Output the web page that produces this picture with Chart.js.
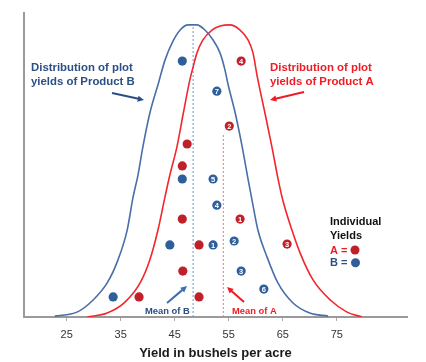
<!DOCTYPE html>
<html>
<head>
<meta charset="utf-8">
<script src="https://cdn.jsdelivr.net/npm/chart.js@4.4.0/dist/chart.umd.min.js"></script>
<style>
  html, body { margin: 0; padding: 0; background: #fff; }
</style>
</head>
<body>
<canvas id="myChart" width="426" height="362"></canvas>
<script>
// x axis
const tickValues = [25, 35, 45, 55, 65, 75];

// distribution curves (yield, relative height 0-100)
const curveBX = [22.8, 26.9, 29.9, 32.5, 34.5, 36.2, 37.3, 38.2, 39.1, 40.4, 42.0, 43.2, 44.5, 46.0, 47.5, 49.1, 50.6, 52.1, 53.4, 54.3, 54.9, 56.2, 57.5, 58.6, 59.3, 60.4, 62.1, 64.1, 66.9, 70.0, 73.4];
const curveBY = [0.3, 1.6, 5.6, 11.2, 18.8, 28.6, 39.5, 46.7, 55.9, 67.1, 77.0, 84.5, 90.1, 94.4, 96.1, 96.1, 94.4, 91.1, 86.8, 81.3, 76.3, 67.1, 55.9, 45.1, 38.5, 28.6, 19.7, 11.2, 4.6, 1.3, 0.3];
const curveAX = [28.8, 32.5, 35.8, 38.6, 40.4, 41.9, 43.2, 44.1, 45.4, 46.6, 47.8, 48.4, 49.1, 50.2, 51.9, 53.4, 55.2, 57.1, 58.6, 59.5, 60.3, 61.7, 63.0, 64.1, 65.0, 66.7, 68.2, 70.6, 73.8, 76.9, 79.7];
const curveAY = [0, 1.3, 4.9, 11.2, 18.8, 28.6, 39.5, 46.7, 55.9, 67.1, 78.0, 82.2, 86.8, 91.1, 94.4, 95.7, 96.1, 94.4, 91.1, 86.8, 78.9, 67.1, 55.9, 45.7, 38.5, 28.6, 21.1, 12.2, 5.6, 1.6, 0];

// means and how high the dotted line goes
const meanA = 54.0, meanATop = 60;
const meanB = 48.4, meanBTop = 96;

// individual yields (x = yield, y = stacking height), '' = no number
const yieldsAX = [47.3, 46.4, 46.4, 49.5, 46.5, 38.4, 49.5, 57.3, 55.1, 57.1, 65.8];
const yieldsAY = [56.9, 49.7, 32.2, 23.7, 15.1, 6.6, 6.6, 84.2, 62.8, 32.2, 24.0];
const labelsA  = ['', '', '', '', '', '', '', '4', '2', '1', '3'];
const yieldsBX = [46.4, 46.4, 44.1, 33.6, 52.8, 52.1, 52.8, 52.1, 56.0, 57.3, 61.5];
const yieldsBY = [84.2, 45.4, 23.7, 6.6, 74.3, 45.4, 36.8, 23.7, 25.0, 15.1, 9.2];
const labelsB  = ['', '', '', '', '7', '5', '4', '1', '2', '3', '6'];

const blueLine = '#4a6fa8';
const redLine = '#f0282d';
const blueDot = '#2f5f9a';
const redDot = '#c0202a';
const blueText = '#2b4f85';
const redText = '#ee1c24';

function pts(xs, ys) {
    return xs.map((x, i) => ({ x: x, y: ys[i] }));
}

function arrow(ctx, x1, y1, x2, y2, color) {
    const a = Math.atan2(y2 - y1, x2 - x1);
    const h = 7;
    ctx.strokeStyle = color;
    ctx.fillStyle = color;
    ctx.lineWidth = 2;
    ctx.beginPath();
    ctx.moveTo(x1, y1);
    ctx.lineTo(x2 - Math.cos(a) * h * 0.8, y2 - Math.sin(a) * h * 0.8);
    ctx.stroke();
    ctx.beginPath();
    ctx.moveTo(x2, y2);
    ctx.lineTo(x2 - h * Math.cos(a - 0.45), y2 - h * Math.sin(a - 0.45));
    ctx.lineTo(x2 - h * Math.cos(a + 0.45), y2 - h * Math.sin(a + 0.45));
    ctx.closePath();
    ctx.fill();
}

// numbers on the dots + text annotations
const notesPlugin = {
    id: 'notes',
    afterDatasetsDraw(chart) {
        const ctx = chart.ctx;
        ctx.save();
        ctx.textAlign = 'center';
        ctx.textBaseline = 'middle';
        ctx.font = 'bold 7.5px "Liberation Sans", Arial, sans-serif';
        ctx.fillStyle = '#fff';
        [[2, labelsA], [3, labelsB]].forEach(([di, labels]) => {
            chart.getDatasetMeta(di).data.forEach((el, i) => {
                if (labels[i]) ctx.fillText(labels[i], el.x, el.y + 0.5);
            });
        });

        ctx.textAlign = 'left';
        ctx.textBaseline = 'alphabetic';
        ctx.font = 'bold 11.4px "Liberation Sans", Arial, sans-serif';
        ctx.fillStyle = blueText;
        ctx.fillText('Distribution of plot', 31, 71);
        ctx.fillText('yields of Product B', 31, 85.3);
        ctx.fillStyle = redText;
        ctx.fillText('Distribution of plot', 270, 70.7);
        ctx.fillText('yields of Product A', 270, 85);

        ctx.font = 'bold 9.4px "Liberation Sans", Arial, sans-serif';
        ctx.fillStyle = blueText;
        ctx.fillText('Mean of B', 145, 314);
        ctx.fillStyle = redText;
        ctx.fillText('Mean of A', 232, 314);

        ctx.font = 'bold 11px "Liberation Sans", Arial, sans-serif';
        ctx.fillStyle = '#111';
        ctx.fillText('Individual', 330, 225.3);
        ctx.fillText('Yields', 330, 239.3);
        ctx.fillStyle = redText;
        ctx.fillText('A =', 330, 253.7);
        ctx.fillStyle = blueText;
        ctx.fillText('B =', 330, 266.2);
        ctx.fillStyle = redDot;
        ctx.beginPath(); ctx.arc(355, 250, 4.5, 0, Math.PI * 2); ctx.fill();
        ctx.fillStyle = blueDot;
        ctx.beginPath(); ctx.arc(355.5, 262.7, 4.5, 0, Math.PI * 2); ctx.fill();

        arrow(ctx, 112, 93, 144, 100, blueText);
        arrow(ctx, 304, 92, 270, 100, redText);
        arrow(ctx, 167, 303, 187, 286, '#3f6fae');
        arrow(ctx, 244, 302, 227, 287, redText);
        ctx.restore();
    }
};

const ctx = document.getElementById('myChart').getContext('2d');
const myChart = new Chart(ctx, {
    type: 'scatter',
    data: {
        datasets: [
            {
                type: 'line', label: 'Product B', data: pts(curveBX, curveBY),
                borderColor: blueLine, borderWidth: 1.6, pointRadius: 0,
                cubicInterpolationMode: 'monotone', fill: false
            },
            {
                type: 'line', label: 'Product A', data: pts(curveAX, curveAY),
                borderColor: redLine, borderWidth: 1.6, pointRadius: 0,
                cubicInterpolationMode: 'monotone', fill: false
            },
            {
                label: 'A', data: pts(yieldsAX, yieldsAY),
                pointRadius: 4.6, pointBackgroundColor: redDot, pointBorderWidth: 0
            },
            {
                label: 'B', data: pts(yieldsBX, yieldsBY),
                pointRadius: 4.6, pointBackgroundColor: blueDot, pointBorderWidth: 0
            },
            {
                type: 'line', label: 'Mean of B', data: [{ x: meanB, y: 0 }, { x: meanB, y: meanBTop }],
                borderColor: '#7396c8', borderWidth: 1, borderDash: [2, 2], pointRadius: 0
            },
            {
                type: 'line', label: 'Mean of A', data: [{ x: meanA, y: 0 }, { x: meanA, y: meanATop }],
                borderColor: '#f07878', borderWidth: 1, borderDash: [2, 2], pointRadius: 0
            }
        ]
    },
    options: {
        responsive: false,
        animation: false,
        devicePixelRatio: 1,
        layout: { padding: { left: 24, right: 19, top: 13, bottom: 0 } },
        plugins: { legend: { display: false }, tooltip: { enabled: false } },
        scales: {
            x: {
                type: 'linear', min: 17.1, max: 88,
                afterBuildTicks: axis => { axis.ticks = tickValues.map(v => ({ value: v })); },
                afterFit: s => { s.height = 45; },
                ticks: {
                    padding: 7, color: '#333',
                    font: { family: '"Liberation Sans", Arial, sans-serif', size: 11 }
                },
                grid: { drawOnChartArea: false, drawTicks: true, tickLength: 4, color: '#aaa' },
                border: { display: true, color: '#9a9a9a', width: 2 },
                title: {
                    display: true, text: 'Yield in bushels per acre', color: '#1a1a1a',
                    padding: { top: 0, bottom: 1 },
                    font: { family: '"Liberation Sans", Arial, sans-serif', size: 13, weight: 'bold' }
                }
            },
            y: {
                type: 'linear', min: 0, max: 100,
                afterFit: s => { s.width = 0; },
                ticks: { display: false },
                grid: { display: false },
                border: { display: true, color: '#9a9a9a', width: 2 }
            }
        }
    },
    plugins: [notesPlugin]
});
</script>
</body>
</html>
